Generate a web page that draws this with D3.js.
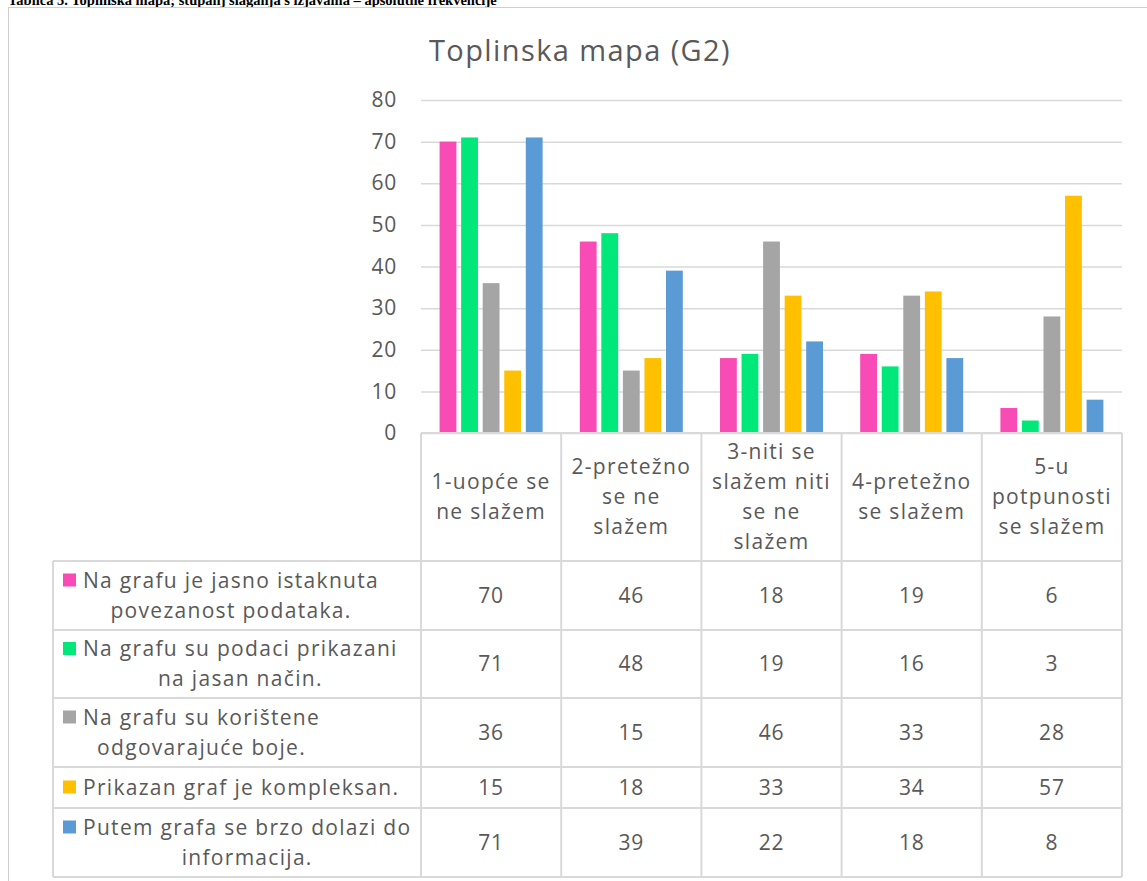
<!DOCTYPE html>
<html><head><meta charset="utf-8">
<script src="https://cdn.jsdelivr.net/npm/d3@7"></script>
<style>body{margin:0;background:#fff}svg{display:block}</style>
</head><body><svg id="c" width="1147" height="881"></svg>
<script>
const categories = [["1-uopće se","ne slažem"],["2-pretežno","se ne","slažem"],["3-niti se","slažem niti","se ne","slažem"],["4-pretežno","se slažem"],["5-u","potpunosti","se slažem"]];
const categoryKeys = ["1","2","3","4","5"];
const seriesNames = [["Na grafu je jasno istaknuta","povezanost podataka."],["Na grafu su podaci prikazani","na jasan način."],["Na grafu su korištene","odgovarajuće boje."],["Prikazan graf je kompleksan."],["Putem grafa se brzo dolazi do","informacija."]];
const seriesColors = ["#F84BB5","#00E87A","#A5A5A5","#FFC000","#5B9BD5"];
const s1 = [70,46,18,19,6];
const s2 = [71,48,19,16,3];
const s3 = [36,15,46,33,28];
const s4 = [15,18,33,34,57];
const s5 = [71,39,22,18,8];
const seriesValues = [s1,s2,s3,s4,s5];
const yTicks = [0,10,20,30,40,50,60,70,80];

(function(){
const svg = d3.select("#c");
const FONT = "'Open Sans', sans-serif";
const FS = 21, LS = "1.3px";
const TXT = "#595959", GRID = "#d9d9d9";

svg.append("text").attr("x",8).attr("y",4.5).attr("font-family","'Liberation Serif', serif").attr("font-weight","bold").attr("font-size",14.5).attr("fill","#000").text("Tablica 5. Toplinska mapa; stupanj slaganja s izjavama – apsolutne frekvencije");
svg.append("rect").attr("x",8.5).attr("y",7.5).attr("width",1160).attr("height",900).attr("fill","none").attr("stroke","#d0d0d0").attr("stroke-width",1);

svg.append("text").attr("x",580).attr("y",61).attr("text-anchor","middle").attr("font-family",FONT).attr("font-size",29).attr("letter-spacing","1.4px").attr("fill",TXT).text("Toplinska mapa (G2)");

const pLeft = 421, pRight = 1122, pTop = 100, pBase = 433;
const x0 = d3.scaleBand().domain(categoryKeys).range([pLeft,pRight]).padding(0);
const bw = x0.bandwidth();
const groupW = 103;
const x1 = d3.scaleBand().domain(d3.range(seriesValues.length)).range([(bw-groupW)/2,(bw+groupW)/2]).paddingInner(0.22).paddingOuter(0);
const y = d3.scaleLinear().domain([0,80]).range([pBase,pTop]);

const yAxis = d3.axisLeft(y).tickValues(yTicks).tickSize(-(pRight-pLeft)).tickPadding(24);
const ga = svg.append("g").attr("transform",`translate(${pLeft},0)`).call(yAxis);
ga.select(".domain").remove();
ga.selectAll(".tick line").attr("stroke",GRID).attr("stroke-width",1.5);
ga.selectAll(".tick text").attr("font-family",FONT).attr("font-size",FS).attr("letter-spacing","0.8px").attr("fill",TXT);

seriesValues.forEach((vals,si)=>{
  svg.append("g").selectAll("rect").data(vals).join("rect")
    .attr("x",(d,i)=>x0(categoryKeys[i])+x1(si))
    .attr("y",d=>y(d))
    .attr("width",x1.bandwidth())
    .attr("height",d=>pBase-y(d))
    .attr("fill",seriesColors[si]);
});

const rowEdges = [433,561,630,698,767,808,877];
const tableLeft = 53;
const tg = svg.append("g");
const line = (a,b,c,d)=>tg.append("line").attr("x1",a).attr("y1",b).attr("x2",c).attr("y2",d).attr("stroke",GRID).attr("stroke-width",2);
categoryKeys.forEach(k=>line(x0(k),433,x0(k),877));
line(pRight,433,pRight,877);
line(tableLeft,561,tableLeft,877);
rowEdges.forEach((ry,i)=>{ if(i===0) line(pLeft,ry,pRight,ry); else line(tableLeft,ry,pRight,ry); });

const txt = (sel)=>sel.attr("font-family",FONT).attr("font-size",FS).attr("letter-spacing",LS).attr("fill",TXT);
const LH = 30;
categories.forEach((lines,i)=>{
  const cx = x0(categoryKeys[i]) + bw/2;
  const cy = (rowEdges[0]+rowEdges[1])/2;
  const y0 = cy - (lines.length-1)*LH/2;
  lines.forEach((t,j)=>{
    txt(tg.append("text")).attr("x",cx).attr("y",y0+j*LH).attr("dy","0.35em").attr("text-anchor","middle").text(t);
  });
});

seriesNames.forEach((lines,si)=>{
  const r0 = rowEdges[si+1], r1 = rowEdges[si+2];
  const cy = (r0+r1)/2;
  const y0 = cy - (lines.length-1)*LH/2;
  const textLeft = 83;
  const temp = lines.map(t=>txt(tg.append("text")).text(t));
  const widths = temp.map(n=>n.node().getComputedTextLength());
  temp.forEach(n=>n.remove());
  const maxW = d3.max(widths);
  const cxText = textLeft + maxW/2;
  lines.forEach((t,j)=>{
    txt(tg.append("text")).attr("x",cxText).attr("y",y0+j*LH).attr("dy","0.35em").attr("text-anchor","middle").text(t);
    if(j===0){
      const lx = cxText - widths[0]/2 - 20;
      tg.append("rect").attr("x",lx).attr("y",y0-7).attr("width",13).attr("height",13).attr("fill",seriesColors[si]);
    }
  });
  seriesValues[si].forEach((v,i)=>{
    txt(tg.append("text")).attr("letter-spacing","0.8px").attr("x",x0(categoryKeys[i])+bw/2).attr("y",cy).attr("dy","0.35em").attr("text-anchor","middle").text(v);
  });
});
})();
</script></body></html>
